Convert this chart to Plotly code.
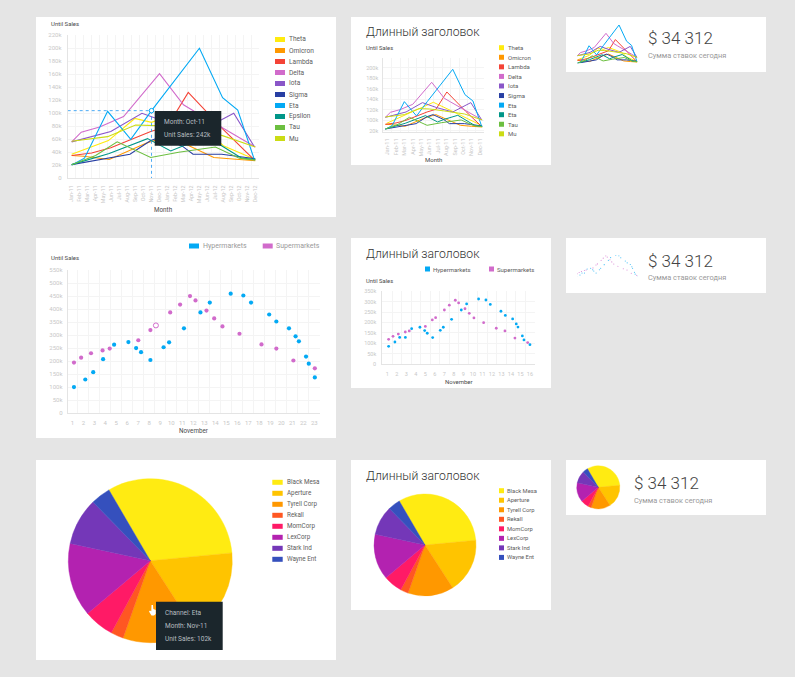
import plotly.graph_objects as go

W, H = 795, 677
MONTHS_24 = ["Jan-11","Feb-11","Mar-11","Apr-11","May-11","Jun-11","Jul-11","Aug-11","Sep-11","Oct-11","Nov-11","Dec-11",
             "Jan-12","Feb-12","Mar-12","Apr-12","May-12","Jun-12","Jul-12","Aug-12","Sep-12","Oct-12","Nov-12","Dec-12"]
MONTHS_12 = MONTHS_24[:12]
LINE_TICKS = ["220k","200k","180k","160k","140k","120k","100k","80k","60k","40k","20k","0"]
LINE_TICKS_SMALL = ["220k","200k","180k","160k","140k","120k","100k","20k"]
LINE_NAMES = ["Theta","Omicron","Lambda","Delta","Iota","Sigma","Eta","Epsilon","Tau","Mu"]
LINE_NAMES_SMALL = ["Theta","Omicron","Lambda","Delta","Iota","Sigma","Eta","Eta","Tau","Mu"]
LINE_COLORS = ["#FFEB0F","#FF9800","#F44336","#D16BCB","#8A56C8","#283FA3","#03A9F4","#009688","#6CBF40","#CBDC14"]

theta_x = [0, 4.6, 7.9, 10, 12, 14, 17, 19, 23]
theta_y = [37, 58, 92, 86, 95, 85, 72, 50, 29]
theta_small_x = [0.3, 5.8, 11.4, 16.1, 22.6]
theta_small_y = [38, 68, 101, 73, 33]
omicron_x = [0, 1.5, 4.7, 7, 9.3, 12, 14.7, 17.8, 20.5, 23]
omicron_y = [35, 34, 29, 42, 54, 64, 50, 32, 29, 27]
lambda_x = [0, 2.5, 4.9, 9.9, 12, 14.6, 19, 22.9]
lambda_y = [35, 39, 47, 72, 80, 132, 75, 28]
delta_x = [0, 1.2, 3.5, 6.5, 11, 14, 15.5, 19, 23]
delta_y = [56, 71, 79, 95, 161, 113, 102, 77, 48]
iota_x = [0, 4.9, 8.8, 12.2, 16, 20.3, 22.9]
iota_y = [56, 72, 100, 85, 72, 100, 48]
sigma_x = [0, 4.7, 7.3, 9.9, 11.3, 13.9, 15.2, 18.8, 23]
sigma_y = [21, 31, 37, 58, 64, 49, 37, 37, 30]
eta_x = [0, 1.6, 4.5, 7.4, 10, 16, 18.9, 20.8, 22.9]
eta_y = [20.5, 31, 103, 60, 104, 200, 124, 105, 28]
epsilon_x = [0, 4.7, 9.5, 12.4, 14, 17.2, 21.3, 23]
epsilon_y = [21, 38, 61, 42, 50, 62, 31, 29]
tau_x = [0, 3, 5.7, 9.9, 13.4, 18, 21, 23]
tau_y = [21, 35, 56, 32, 40, 48, 31, 28]
mu_x = [0, 4.5, 8, 10.5, 14, 18.8, 23]
mu_y = [57, 64, 82, 81, 75, 66, 48]
LINE_SERIES = [(theta_x,theta_y),(omicron_x,omicron_y),(lambda_x,lambda_y),(delta_x,delta_y),(iota_x,iota_y),
               (sigma_x,sigma_y),(eta_x,eta_y),(epsilon_x,epsilon_y),(tau_x,tau_y),(mu_x,mu_y)]
hover_month_x = [10]
hover_sales_y = [104]

SCATTER_COLORS = ["#03A9F4", "#D16BCB"]
SCATTER_NAMES = ["Hypermarkets", "Supermarkets"]
NOV_TICKS_BIG = list(range(1, 24))
NOV_TICKS_SMALL = list(range(1, 17))
SALES_BIG_VALS = list(range(0, 551, 50))
SALES_BIG_TEXT = ["0"] + [f"{v}k" for v in range(50, 551, 50)]
SALES_SMALL_VALS = list(range(0, 351, 50))
SALES_SMALL_TEXT = ["0"] + [f"{v}k" for v in range(50, 351, 50)]

hyper_big_x = [1.15,2.18,2.9,3.8,4.8,6.1,6.8,7.25,8.1,9.3,9.8,11.15,12.65,13.5,15.4,16.55,17.25,18.9,19.55,20.7,21.3,21.6,22.25,22.5,23.05]
hyper_big_y = [101,130,158,208,264,274,251,235,205,254,273,327,388,426,460,453,426,380,353,327,296,277,218,191,138]
super_big_x = [1.15,1.8,2.7,3.75,4.4,7,8.1,9.9,10.8,11.7,12.2,13.2,13.9,14.65,16.2,18.2,19.55,21.1,23.05]
super_big_y = [195,214,231,242,249,281,320,388,418,451,434,395,365,334,306,265,249,203,173]
super_hover_x = [8.6]
super_hover_y = [338]

hyper_small_x = [1.14,1.8,2.3,2.9,3.56,4.43,4.93,5.2,5.77,6.57,6.89,7.76,8.78,9.34,10.6,11.37,11.83,12.95,13.41,14.18,14.56,14.74,15.2,15.37,16]
hyper_small_y = [85,106,128,128,170,177,161,148,127,162,177,215,260,289,313,308,287,254,234,217,193,178,135,116,93]
super_small_x = [1.14,1.6,2.16,2.89,3.31,5,5.73,6.08,7,7.52,8.15,8.5,9.17,9.62,10.11,11.13,12.46,13.37,14.42,15.76]
super_small_y = [119,133,144,154,159,181,212,223,260,283,307,294,266,244,222,199,172,159,125,103]

PIE_NAMES = ["Black Mesa","Aperture","Tyrell Corp","Rekall","MomCorp","LexCorp","Stark Ind","Wayne Ent"]
PIE_VALUES = [31.9, 17.4, 14.5, 2.5, 6.0, 14.5, 9.3, 3.9]
PIE_COLORS = ["#FFEB12","#FFC400","#FF9800","#FF5722","#FF1A66","#B322B0","#7437B8","#3550BD"]

TITLE = "Длинный заголовок"
KPI = "$ 34 312"
KPI_SUB = "Сумма ставок сегодня"
FONT = "Roboto"
INK = "#4a4a4a"; TICK = "#c8c8c8"; GRID = "#f4f4f4"; AXIS = "#e4e4e4"; LEG = "#5c5c5c"
DARK = "#1B262C"

def px(x): return x / W
def py(y): return 1 - y / H

fig = go.Figure()
shapes, annos, axes = [], [], {}
n_ax = [0]

def text(x, y, s, size=7, color=INK, anchor="left", weight=None):
    f = dict(family=FONT, size=size, color=color)
    if weight: f["weight"] = weight
    annos.append(dict(x=px(x), y=py(y), xref="paper", yref="paper", text=s, showarrow=False,
                      xanchor=anchor, yanchor="middle", font=f, borderpad=0, borderwidth=0))

def rect(x0, y0, x1, y1, color, layer="below"):
    shapes.append(dict(type="rect", xref="paper", yref="paper", x0=px(x0), x1=px(x1), y0=py(y0), y1=py(y1),
                       fillcolor=color, line=dict(width=0), layer=layer))

def axes_pair(box, xr, yr, xvals=None, xtext=None, yvals=None, ytext=None, edges=None, angle=0,
              visible=True, size=6, xsize=None, standoff=3, grid=True):
    n_ax[0] += 1
    n = n_ax[0]; suf = "" if n == 1 else str(n)
    x0, y0, x1, y1 = box
    axes["xaxis" + suf] = dict(domain=[px(x0), px(x1)], range=xr, anchor="y" + suf, visible=visible, automargin=False,
        showgrid=False, zeroline=False, showline=visible, linecolor=AXIS, linewidth=1, ticks="",
        tickmode="array", tickvals=xvals, ticktext=xtext, tickangle=angle, ticklabelstandoff=standoff,
        tickfont=dict(family=FONT, size=xsize or size, color=TICK),
        minor=dict(tickvals=edges, showgrid=True, gridcolor=GRID, gridwidth=1, ticks="") if edges else None)
    axes["yaxis" + suf] = dict(domain=[py(y1), py(y0)], range=yr, anchor="x" + suf, visible=visible, automargin=False,
        showgrid=grid, gridcolor=GRID, gridwidth=1, zeroline=False, showline=visible, linecolor=AXIS, linewidth=1,
        ticks="", tickmode="array", tickvals=yvals, ticktext=ytext, ticklabelstandoff=standoff,
        tickfont=dict(family=FONT, size=size, color=TICK))
    return "x" + suf, "y" + suf

# cards
for c in [(36,17,336,217),(351,17,551,165),(566,17,766,72),
          (36,238,336,438),(351,238,551,388),(566,238,766,293),
          (36,460,336,660),(351,460,551,610),(566,460,766,515)]:
    rect(*c, "#FFFFFF")

def lines(xa, ya, width, theta=None):
    for i, ((xs, ys), col) in enumerate(zip(LINE_SERIES, LINE_COLORS)):
        if i == 0 and theta:
            xs, ys = theta
        fig.add_trace(go.Scatter(x=xs, y=ys, mode="lines", xaxis=xa, yaxis=ya, name=LINE_NAMES[i],
                                 line=dict(color=col, width=width), hoverinfo="skip", showlegend=False))

def legend(names, colors, sx, sw, sh, ty, step, tx, size):
    for i, (nm, col) in enumerate(zip(names, colors)):
        y = ty + step * i
        rect(sx, y - sh / 2, sx + sw, y + sh / 2, col)
        text(tx, y, nm, size=size, color=LEG)

# ---- chart 1: big line chart
edges24 = [i - 0.5 for i in range(25)]
xa, ya = axes_pair((67.7, 35.2, 259.3, 178.3), [-0.5, 23.5], [0, 220], list(range(24)), MONTHS_24,
                   [220 - 20 * i for i in range(12)], LINE_TICKS, edges24, angle=-90, xsize=5.4, standoff=4)
lines(xa, ya, 1.1)
fig.add_trace(go.Scatter(x=[-0.5, hover_month_x[0], hover_month_x[0]], y=[hover_sales_y[0], hover_sales_y[0], 0], mode="lines",
                         xaxis=xa, yaxis=ya, line=dict(color="#2196F3", width=0.8, dash="dot"), hoverinfo="skip", showlegend=False))
fig.add_trace(go.Scatter(x=hover_month_x, y=hover_sales_y, mode="markers", xaxis=xa, yaxis=ya,
                         marker=dict(size=4.5, color="#FFFFFF", line=dict(color="#03A9F4", width=1)), hoverinfo="skip", showlegend=False))
text(51, 23.5, "Until Sales", size=6)
text(163, 209.5, "Month", size=6.3, anchor="center")
legend(LINE_NAMES, LINE_COLORS, 275, 10, 5, 39.5, 11, 289, 6.6)
rect(154.7, 111, 221.3, 145.7, DARK, "above")
text(163.7, 121.7, "Month: Oct-11", size=6.5, color="#B8BEC0")
text(163.7, 135, "Unit Sales: 242k", size=6.5, color="#B8BEC0")

# ---- chart 2: small line chart
small_vals = [16 + 31.5 * (7 - i) for i in range(8)]
xa, ya = axes_pair((383.3, 58.3, 484.3, 132.3), [-0.5, 23.5], [11, 233], [0.5 + 2 * i for i in range(12)], MONTHS_12,
                   small_vals, LINE_TICKS_SMALL, [-0.5 + 2 * i for i in range(13)], angle=-90, size=5.5)
lines(xa, ya, 1.0, theta=(theta_small_x, theta_small_y))
text(366, 32, TITLE, size=12.2, weight=300, color="#333333")
text(366, 47.5, "Until Sales", size=5.8)
text(433.5, 159.5, "Month", size=6, anchor="center")
legend(LINE_NAMES_SMALL, LINE_COLORS, 499, 5, 5, 47.7, 9.57, 507.7, 6)

# ---- chart 3: spark lines
xa, ya = axes_pair((577.3, 25, 637.3, 63.3), [0, 23], [21, 200], visible=False, grid=False)
lines(xa, ya, 1.0)
text(647.7, 38.3, KPI, size=17, weight=300, color="#444444")
text(647.7, 55.3, KPI_SUB, size=7.4, color="#9a9a9a")

# ---- chart 4: big scatter
def scatter(xa, ya, hx, hy, sx, sy, size, opacity=1.0):
    fig.add_trace(go.Scatter(x=hx, y=hy, mode="markers", xaxis=xa, yaxis=ya, name=SCATTER_NAMES[0], hoverinfo="skip", showlegend=False,
                             marker=dict(size=size, color=SCATTER_COLORS[0], opacity=opacity, line=dict(width=0))))
    fig.add_trace(go.Scatter(x=sx, y=sy, mode="markers", xaxis=xa, yaxis=ya, name=SCATTER_NAMES[1], hoverinfo="skip", showlegend=False,
                             marker=dict(size=size, color=SCATTER_COLORS[1], opacity=opacity, line=dict(width=0))))

xa, ya = axes_pair((67.7, 270.3, 320, 413.3), [0.58, 23.52], [0, 550], NOV_TICKS_BIG, [str(v) for v in NOV_TICKS_BIG],
                   SALES_BIG_VALS, SALES_BIG_TEXT, [0.5 + i for i in range(24)], size=6, standoff=3)
scatter(xa, ya, hyper_big_x, hyper_big_y, super_big_x, super_big_y, 4.2)
fig.add_trace(go.Scatter(x=super_hover_x, y=super_hover_y, mode="markers", xaxis=xa, yaxis=ya, hoverinfo="skip", showlegend=False,
                         marker=dict(size=5, color="#FFFFFF", line=dict(color=SCATTER_COLORS[1], width=1))))
rect(189, 243.5, 199, 248.5, SCATTER_COLORS[0])
text(202.7, 246, SCATTER_NAMES[0], size=7, color="#9a9a9a")
rect(262.7, 243.5, 272.7, 248.5, SCATTER_COLORS[1])
text(276, 246, SCATTER_NAMES[1], size=7, color="#9a9a9a")
text(51, 257.5, "Until Sales", size=6)
text(194, 431.5, "November", size=6.3, anchor="center")

# ---- chart 5: small scatter
xa, ya = axes_pair((382.3, 291.3, 535, 364), [0.474, 16.53], [0, 350], NOV_TICKS_SMALL, [str(v) for v in NOV_TICKS_SMALL],
                   SALES_SMALL_VALS, SALES_SMALL_TEXT, [0.5 + i for i in range(17)], size=5.5, standoff=4)
scatter(xa, ya, hyper_small_x, hyper_small_y, super_small_x, super_small_y, 2.8)
text(366, 253.7, TITLE, size=12.2, weight=300, color="#333333")
rect(425, 266.5, 430, 271.5, SCATTER_COLORS[0])
text(432.7, 269, SCATTER_NAMES[0], size=6, color=LEG)
rect(489, 266.5, 494, 271.5, SCATTER_COLORS[1])
text(497, 269, SCATTER_NAMES[1], size=6, color=LEG)
text(366, 280.7, "Until Sales", size=5.8)
text(458.7, 381.3, "November", size=6, anchor="center")

# ---- chart 6: tiny scatter
xa, ya = axes_pair((577.3, 255.3, 637.7, 276.3), [1.14, 16], [93, 313], visible=False, grid=False)
scatter(xa, ya, hyper_small_x, hyper_small_y, super_small_x, super_small_y, 1.1, opacity=0.8)
text(648.3, 260.7, KPI, size=17, weight=300, color="#444444")
text(648.3, 277, KPI_SUB, size=7.4, color="#9a9a9a")

# ---- pies
def pie(cx, cy, r):
    fig.add_trace(go.Pie(labels=PIE_NAMES, values=PIE_VALUES, sort=False, direction="clockwise", rotation=329.7,
                         marker=dict(colors=PIE_COLORS, line=dict(width=0.4, color=PIE_COLORS)), textinfo="none", hoverinfo="skip", showlegend=False,
                         domain=dict(x=[px(cx - r), px(cx + r)], y=[py(cy + r), py(cy - r)])))

pie(150.3, 560.7, 82)
legend(PIE_NAMES, PIE_COLORS, 272.3, 10.4, 5, 482.3, 11, 286.7, 6.3)
rect(156, 601.7, 222.7, 650, DARK, "above")
text(165, 612.7, "Channel: Eta", size=6.5, color="#B8BEC0")
text(165, 625.7, "Month: Nov-11", size=6.5, color="#B8BEC0")
text(165, 638.7, "Unit Sales: 102k", size=6.5, color="#B8BEC0")
hand = [(151.5,605),(153,605),(153.3,609),(155.7,610),(155.7,614),(154,615.5),(151.5,615.5),(149,611.5),(150,610.5),(151.3,611.3)]
shapes.append(dict(type="path", xref="paper", yref="paper", layer="above", fillcolor="#FFFFFF", line=dict(width=0),
                   path="M" + " L".join(f"{px(a):.5f},{py(b):.5f}" for a, b in hand) + " Z"))

pie(425, 545, 51)
text(366, 475.5, TITLE, size=12.2, weight=300, color="#333333")
legend(PIE_NAMES, PIE_COLORS, 499, 5, 5, 490.7, 9.53, 506.7, 5.8)

pie(598.3, 487.3, 21.5)
text(634.3, 483.3, KPI, size=17, weight=300, color="#444444")
text(634.3, 500, KPI_SUB, size=7.4, color="#9a9a9a")

fig.update_layout(width=W, height=H, margin=dict(l=0, r=0, t=0, b=0, pad=0), autosize=False,
                  paper_bgcolor="#E5E5E5", plot_bgcolor="rgba(0,0,0,0)", showlegend=False,
                  shapes=shapes, annotations=annos, font=dict(family=FONT), **axes)
fig.write_html("out.html", config=dict(displayModeBar=False),
               post_script="document.body.style.margin='0';document.body.style.background='#E5E5E5';")
